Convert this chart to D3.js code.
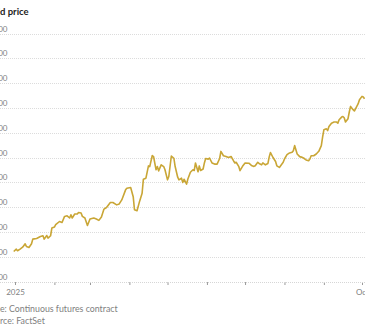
<!DOCTYPE html>
<html>
<head>
<meta charset="utf-8">
<script src="https://cdn.jsdelivr.net/npm/d3@7"></script>
<style>
  html, body { margin: 0; padding: 0; background: #fff; overflow: hidden; }
  svg { display: block; font-family: Lato, "Open Sans", sans-serif; }
</style>
</head>
<body>
<svg id="chart" width="365" height="330"></svg>
<script>
const title = "Gold price";
const note = "Note: Continuous futures contract";
const source = "Source: FactSet";

const yTicks = [2400, 2600, 2800, 3000, 3200, 3400, 3600, 3800, 4000, 4200, 4400];
const yTickLabels = ["2,400", "2,600", "2,800", "3,000", "3,200", "3,400", "3,600", "3,800", "4,000", "4,200", "4,400"];
const xTicks = ["2025-01-01","2025-02-01","2025-03-01","2025-04-01","2025-05-01","2025-06-01","2025-07-01","2025-08-01","2025-09-01","2025-10-01"];
const xTickLabels = ["2025", "", "", "", "", "", "", "", "", "Oct"];

const dates = [
  "2024-12-31","2025-01-02","2025-01-03","2025-01-05","2025-01-07","2025-01-09","2025-01-10","2025-01-12","2025-01-14","2025-01-15",
  "2025-01-18","2025-01-21","2025-01-23","2025-01-24","2025-01-26","2025-01-27","2025-01-29","2025-01-30","2025-02-01","2025-02-02",
  "2025-02-05","2025-02-07","2025-02-09","2025-02-11","2025-02-13","2025-02-14","2025-02-15","2025-02-17","2025-02-19","2025-02-20",
  "2025-02-22","2025-02-23","2025-02-25","2025-02-27","2025-03-01","2025-03-04","2025-03-06","2025-03-08","2025-03-10","2025-03-12",
  "2025-03-14","2025-03-17","2025-03-19","2025-03-22","2025-03-24","2025-03-26","2025-03-29","2025-03-30","2025-04-02","2025-04-04",
  "2025-04-05","2025-04-07","2025-04-09","2025-04-11","2025-04-12","2025-04-14","2025-04-16","2025-04-17","2025-04-19","2025-04-20",
  "2025-04-22","2025-04-23","2025-04-24","2025-04-26","2025-04-28","2025-04-29","2025-05-01","2025-05-02","2025-05-04","2025-05-06",
  "2025-05-07","2025-05-09","2025-05-10","2025-05-12","2025-05-13","2025-05-14","2025-05-16","2025-05-17","2025-05-19","2025-05-21",
  "2025-05-22","2025-05-23","2025-05-25","2025-05-26","2025-05-27","2025-05-29","2025-05-30","2025-05-31","2025-06-02","2025-06-03",
  "2025-06-05","2025-06-07","2025-06-09","2025-06-11","2025-06-12","2025-06-14","2025-06-16","2025-06-18","2025-06-20","2025-06-22",
  "2025-06-23","2025-06-24","2025-06-26","2025-06-27","2025-06-29","2025-07-01","2025-07-04","2025-07-06","2025-07-08","2025-07-09",
  "2025-07-11","2025-07-12","2025-07-14","2025-07-15","2025-07-17","2025-07-19","2025-07-20","2025-07-21","2025-07-23","2025-07-25",
  "2025-07-26","2025-07-28","2025-07-30","2025-07-31","2025-08-01","2025-08-03","2025-08-05","2025-08-07","2025-08-08","2025-08-09",
  "2025-08-11","2025-08-13","2025-08-15","2025-08-16","2025-08-18","2025-08-20","2025-08-21","2025-08-22","2025-08-24","2025-08-26",
  "2025-08-28","2025-08-30","2025-08-31","2025-09-01","2025-09-03","2025-09-04","2025-09-05","2025-09-07","2025-09-09","2025-09-11",
  "2025-09-12","2025-09-13","2025-09-15","2025-09-16","2025-09-17","2025-09-18","2025-09-20","2025-09-21","2025-09-22","2025-09-24",
  "2025-09-25","2025-09-26","2025-09-28","2025-09-29","2025-10-01","2025-10-02","2025-10-03"
];
const prices = [
  2646,2665,2652,2665,2681,2708,2686,2678,2708,2746,
  2751,2767,2773,2746,2775,2754,2773,2835,2843,2862,
  2888,2880,2929,2934,2916,2942,2916,2948,2948,2961,
  2956,2929,2916,2856,2908,2916,2908,2897,2924,2988,
  3001,3041,3041,3022,3030,3062,3143,3156,3162,3088,
  2983,2975,3050,3116,3229,3237,3336,3331,3420,3412,
  3305,3331,3296,3345,3331,3305,3224,3251,3416,3398,
  3331,3245,3224,3237,3202,3229,3189,3231,3285,3305,
  3299,3360,3289,3336,3299,3311,3360,3396,3391,3400,
  3360,3351,3351,3396,3453,3418,3412,3404,3412,3376,
  3360,3366,3333,3298,3333,3360,3358,3340,3332,3338,
  3365,3356,3345,3361,3345,3356,3409,3444,3404,3372,
  3337,3324,3351,3365,3392,3427,3441,3446,3459,3500,
  3432,3411,3405,3400,3384,3378,3392,3418,3418,3432,
  3454,3500,3568,3627,3635,3621,3654,3681,3690,3690,
  3681,3708,3730,3735,3725,3690,3717,3771,3816,3790,
  3779,3798,3838,3870,3897,3892,3877
];

const parse = d3.timeParse("%Y-%m-%d");
const data = dates.map((d, i) => ({ date: parse(d), value: prices[i] }));

const svg = d3.select("#chart");
const W = 365;

const x = d3.scaleTime()
  .domain([parse("2025-01-01"), parse("2025-10-01")])
  .range([15, 362]);
const y = d3.scaleLinear()
  .domain([2400, 4400])
  .range([282, 34]);

function measure(str, size, weight) {
  const t = svg.append("text").attr("font-size", size).attr("font-weight", weight || "normal")
    .attr("font-family", "Lato, 'Open Sans', sans-serif").text(str);
  const w = t.node().getComputedTextLength();
  t.remove();
  return w;
}

// gridlines
svg.append("g").selectAll("line")
  .data(yTicks.slice(1))
  .join("line")
  .attr("x1", 0).attr("x2", W)
  .attr("y1", d => y(d)).attr("y2", d => y(d))
  .attr("stroke", "#dcdcdc")
  .attr("stroke-width", 1)
  .attr("stroke-dasharray", "1,1")
  .attr("shape-rendering", "crispEdges");

// y labels
svg.append("g").selectAll("text")
  .data(yTicks)
  .join("text")
  .attr("x", 7.5)
  .attr("y", d => y(d) - 2.5)
  .attr("text-anchor", "end")
  .attr("font-size", 8)
  .attr("fill", "#808080")
  .text((d, i) => yTickLabels[i]);

// x axis
const xAxis = d3.axisBottom(x)
  .tickValues(xTicks.map(parse))
  .tickSize(3)
  .tickPadding(4)
  .tickFormat((d, i) => xTickLabels[i]);

const gx = svg.append("g")
  .attr("transform", `translate(0,${y(2400)})`)
  .call(xAxis);
gx.select(".domain").remove();
gx.append("line")
  .attr("x1", 0).attr("x2", W)
  .attr("stroke", "#d6d6d6")
  .attr("stroke-dasharray", "1,1")
  .attr("shape-rendering", "crispEdges");
gx.selectAll(".tick line").attr("stroke", "#999");
gx.selectAll(".tick text")
  .attr("font-size", 8)
  .attr("font-family", "Lato, 'Open Sans', sans-serif")
  .attr("fill", "#808080");

// line
const line = d3.line()
  .x(d => x(d.date))
  .y(d => y(d.value));

svg.append("path")
  .datum(data)
  .attr("d", line)
  .attr("fill", "none")
  .attr("stroke", "#c9a636")
  .attr("stroke-width", 1.6)
  .attr("stroke-linejoin", "round");

// title (cropped on the left as in the reference)
const tOff = measure("Gol", 9.5, "bold");
svg.append("text")
  .attr("x", -tOff)
  .attr("y", 15)
  .attr("font-size", 9.5)
  .attr("font-weight", "bold")
  .attr("fill", "#222")
  .text(title);

const nOff = measure("Not", 8.8);
svg.append("text")
  .attr("x", -nOff)
  .attr("y", 312)
  .attr("font-size", 8.8)
  .attr("fill", "#808080")
  .text(note);

const sOff = measure("Sou", 8.8);
svg.append("text")
  .attr("x", -sOff)
  .attr("y", 324)
  .attr("font-size", 8.8)
  .attr("fill", "#808080")
  .text(source);
</script>
</body>
</html>
